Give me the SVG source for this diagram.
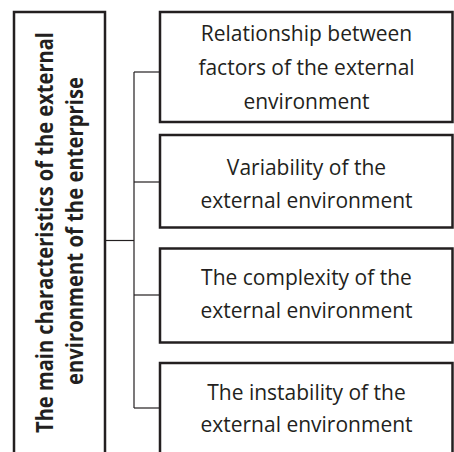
<svg xmlns="http://www.w3.org/2000/svg" width="454" height="452" viewBox="0 0 454 452">
<style>
.box{fill:#fff;stroke:#231f20;stroke-width:2.5}
.con{fill:none;stroke:#231f20;stroke-width:1.2}
.t{font-family:"Open Sans","Noto Sans",sans-serif;font-size:21px;fill:#231f20;text-anchor:middle}
.tb{font-family:"Open Sans","Noto Sans",sans-serif;font-size:24px;font-weight:bold;fill:#231f20;text-anchor:middle}
</style>
<g id="connectors">
<line class="con" x1="105" y1="240.5" x2="134" y2="240.5"/>
<line class="con" x1="134" y1="72" x2="134" y2="408"/>
<line class="con" x1="134" y1="72" x2="160" y2="72"/>
<line class="con" x1="134" y1="182" x2="160" y2="182"/>
<line class="con" x1="134" y1="295" x2="160" y2="295"/>
<line class="con" x1="134" y1="408" x2="160" y2="408"/>
</g>
<g id="main">
<rect class="box" x="14" y="12" width="91" height="460"/>
<text class="tb" transform="translate(52.5,232.5) rotate(-90)" textLength="401" lengthAdjust="spacingAndGlyphs">The main characteristics of the external</text>
<text class="tb" transform="translate(83,231) rotate(-90)" textLength="308" lengthAdjust="spacingAndGlyphs">environment of the enterprise</text>
</g>
<g id="n1">
<rect class="box" x="160" y="12" width="292.5" height="110"/>
<text class="t" x="306.5" y="41">Relationship between</text>
<text class="t" x="306.5" y="75">factors of the external</text>
<text class="t" x="306.5" y="109">environment</text>
</g>
<g id="n2">
<rect class="box" x="160" y="135" width="292.5" height="92.5"/>
<text class="t" x="306.5" y="174.5">Variability of the</text>
<text class="t" x="306.5" y="208">external environment</text>
</g>
<g id="n3">
<rect class="box" x="160" y="248.5" width="292.5" height="94"/>
<text class="t" x="306.5" y="285">The complexity of the</text>
<text class="t" x="306.5" y="318">external environment</text>
</g>
<g id="n4">
<rect class="box" x="160" y="363" width="292.5" height="110"/>
<text class="t" x="306.5" y="400">The instability of the</text>
<text class="t" x="306.5" y="432">external environment</text>
</g>
</svg>
